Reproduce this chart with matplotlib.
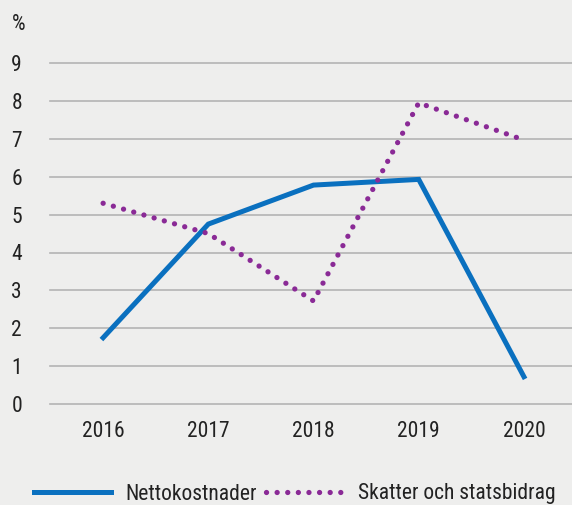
import matplotlib.pyplot as plt

# data
years = ["2016", "2017", "2018", "2019", "2020"]
netto = [1.75, 4.75, 5.78, 5.93, 0.72]
skatter = [5.3, 4.5, 2.72, 7.95, 6.97]
yticks = [0, 1, 2, 3, 4, 5, 6, 7, 8, 9]

BG = "#eeeeed"
BLUE = "#0a70bf"
PURPLE = "#8a2a96"
TXT = "#222222"
FS = 15.5

plt.rcParams["font.family"] = ["Roboto Condensed", "DejaVu Sans"]

fig = plt.figure(figsize=(5.72, 5.05), dpi=100, facecolor=BG)
ax = fig.add_axes([0.0874, 0.2, 0.9126, 0.675], facecolor=BG)

x = list(range(len(years)))
ax.plot(x, netto, color=BLUE, linewidth=3.6, solid_joinstyle="miter",
        label="Nettokostnader", zorder=3)
ax.plot(x, skatter, color=PURPLE, linewidth=3.8, linestyle=(0, (0.01, 2.0)),
        dash_capstyle="round", label="Skatter och statsbidrag", zorder=3)

ax.set_ylim(0, 9)
ax.set_xlim(-0.505, 4.457)
ax.set_yticks(yticks)
ax.set_xticks(x)
ax.set_xticklabels(years)
ax.grid(axis="y", color="#b4b4b4", linewidth=1.2)
for gl in ax.get_ygridlines():
    gl.set_clip_on(False)
for s in ax.spines.values():
    s.set_visible(False)
ax.tick_params(axis="both", length=0, labelsize=FS, colors=TXT)
ax.tick_params(axis="y", pad=0)
for lbl in ax.get_yticklabels():
    lbl.set_horizontalalignment("left")
    lbl.set_x(-0.074)
ax.tick_params(axis="x", pad=12)

fig.text(12 / 572, 1 - 25 / 505, "%", fontsize=FS, color=TXT, va="center", ha="left")

fig.legend(loc="center left", bbox_to_anchor=(0.059, 1 - 494 / 505), ncol=2,
           frameon=False, fontsize=FS, handlelength=3.6, handletextpad=0.65,
           columnspacing=0.45, labelcolor=TXT, borderaxespad=0, borderpad=0)

fig.savefig("out.png", dpi=100, facecolor=BG)
